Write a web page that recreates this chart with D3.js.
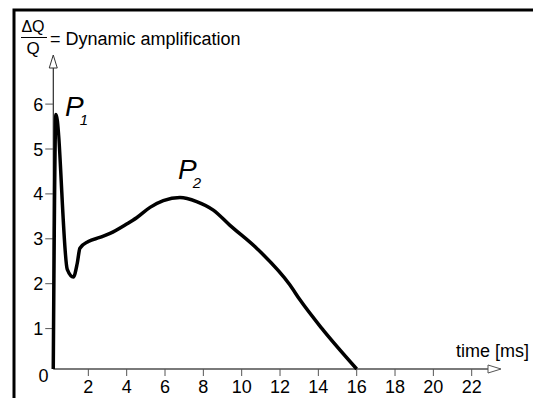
<!DOCTYPE html>
<html>
<head>
<meta charset="utf-8">
<script src="https://cdn.jsdelivr.net/npm/d3@7"></script>
<style>
  body { margin: 0; background: #fff; }
  text { font-family: "Liberation Sans", Arial, sans-serif; }
</style>
</head>
<body>
<script>
// dynamic amplification curve
var times = [0.17, 0.31, 0.90, 1.22, 1.42, 1.56, 2.0, 2.6, 3.13, 4.0, 4.52, 5.22, 5.91, 6.78, 7.65, 8.52, 9.39, 10.78, 12.52, 13.04, 14.17, 16.0];
var amps  = [0.1, 5.77, 2.32, 2.15, 2.45, 2.79, 2.94, 3.03, 3.12, 3.33, 3.47, 3.70, 3.85, 3.92, 3.83, 3.64, 3.30, 2.79, 1.97, 1.64, 1.01, 0.1];
var xTicks = [2, 4, 6, 8, 10, 12, 14, 16, 18, 20, 22];
var yTicks = [1, 2, 3, 4, 5, 6];

var W = 533, H = 398;
var svg = d3.select('body').append('svg').attr('width', W).attr('height', H);

var x = d3.scaleLinear().domain([0, 22]).range([50, 471.7]);
var y = d3.scaleLinear().domain([0, 6]).range([373.5, 104.1]);

var axisY = y(0.1);   // x-axis sits a little above zero
var axisX = x(0.17);  // y-axis sits where the curve rises

// frame
svg.append('path')
  .attr('d', 'M14,' + H + ' V10 H' + W)
  .attr('fill', 'none').attr('stroke', '#000').attr('stroke-width', 3);

// x axis line + arrow
svg.append('line')
  .attr('x1', axisX).attr('x2', 488).attr('y1', axisY).attr('y2', axisY)
  .attr('stroke', '#7a7a7a').attr('stroke-width', 2);
svg.append('path')
  .attr('d', 'M488,' + (axisY - 4) + ' L501,' + axisY + ' L488,' + (axisY + 4) + ' Z')
  .attr('fill', '#fff').attr('stroke', '#555').attr('stroke-width', 1);

svg.selectAll('.xt').data(xTicks).enter().append('line')
  .attr('x1', function(d) { return x(d); }).attr('x2', function(d) { return x(d); })
  .attr('y1', axisY).attr('y2', axisY + 7)
  .attr('stroke', '#555').attr('stroke-width', 1);
svg.selectAll('.xl').data(xTicks).enter().append('text')
  .attr('x', function(d) { return x(d); }).attr('y', 393)
  .attr('text-anchor', 'middle').attr('font-size', 18)
  .text(function(d) { return d; });

// y axis line + arrow
svg.append('line')
  .attr('x1', axisX).attr('x2', axisX).attr('y1', axisY).attr('y2', 68)
  .attr('stroke', '#000').attr('stroke-width', 1);
svg.append('path')
  .attr('d', 'M' + (axisX - 4) + ',68 L' + axisX + ',55 L' + (axisX + 4) + ',68 Z')
  .attr('fill', '#fff').attr('stroke', '#333').attr('stroke-width', 1);

svg.selectAll('.yt').data(yTicks).enter().append('line')
  .attr('x1', axisX - 8).attr('x2', axisX)
  .attr('y1', function(d) { return y(d); }).attr('y2', function(d) { return y(d); })
  .attr('stroke', '#555').attr('stroke-width', 1);
svg.selectAll('.yl').data(yTicks).enter().append('text')
  .attr('x', axisX - 10).attr('y', function(d) { return y(d) + 6.5; })
  .attr('text-anchor', 'end').attr('font-size', 18)
  .text(function(d) { return d; });

svg.append('text').attr('x', 43.5).attr('y', 382)
  .attr('text-anchor', 'middle').attr('font-size', 18).text('0');

// curve
var line = d3.line()
  .x(function(d) { return x(d[0]); })
  .y(function(d) { return y(d[1]); })
  .curve(d3.curveMonotoneX);
svg.append('path')
  .datum(d3.zip(times, amps))
  .attr('d', line)
  .attr('fill', 'none').attr('stroke', '#000').attr('stroke-width', 3.5)
  .attr('stroke-linejoin', 'round');

// title fraction
svg.append('text').attr('x', 33).attr('y', 32).attr('text-anchor', 'middle')
  .attr('font-size', 16).text('\u0394Q');
svg.append('line').attr('x1', 21).attr('x2', 47).attr('y1', 37.5).attr('y2', 37.5)
  .attr('stroke', '#000').attr('stroke-width', 1);
svg.append('text').attr('x', 33).attr('y', 54).attr('text-anchor', 'middle')
  .attr('font-size', 17).text('Q');
svg.append('text').attr('x', 50).attr('y', 45).attr('font-size', 18)
  .text('= Dynamic amplification');

svg.append('text').attr('x', 529).attr('y', 357).attr('text-anchor', 'end')
  .attr('font-size', 18).text('time [ms]');

// peak labels
var peaks = [{ t: 0.31, a: 5.77, sub: '1', dx: 9, dy: 2 }, { t: 6.78, a: 3.92, sub: '2', dx: -2, dy: -18 }];
peaks.forEach(function(p) {
  var t = svg.append('text').attr('x', x(p.t) + p.dx).attr('y', y(p.a) + p.dy)
    .attr('font-size', 28).attr('font-style', 'italic').text('P');
  t.append('tspan').attr('dx', -4).attr('dy', 9).attr('font-size', 15).text(p.sub);
});
</script>
</body>
</html>
